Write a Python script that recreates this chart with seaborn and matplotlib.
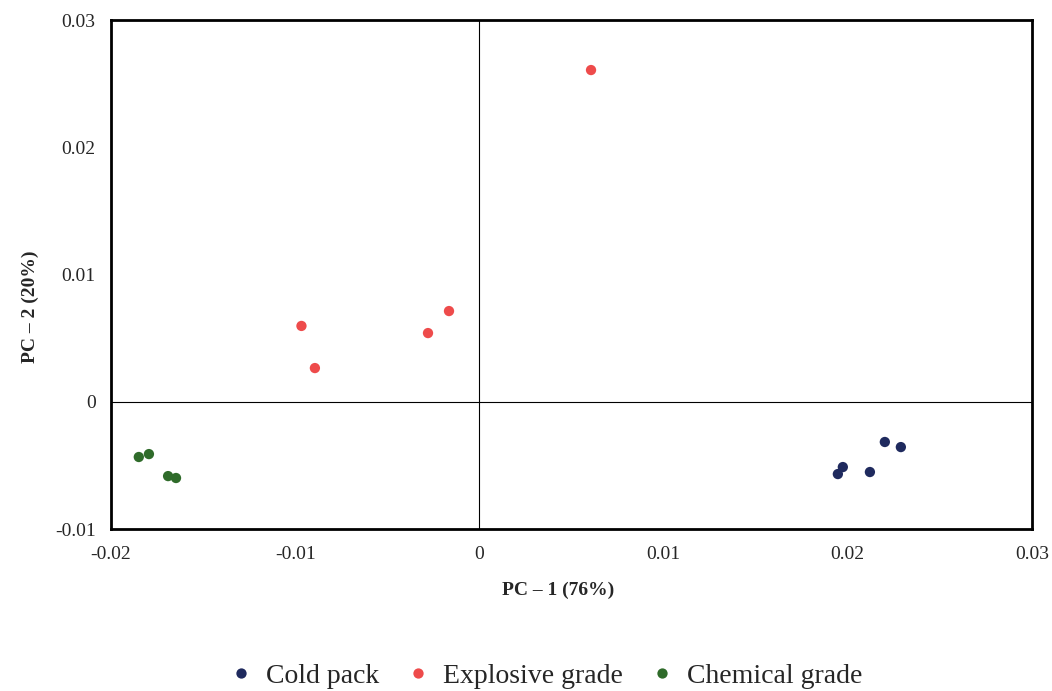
import matplotlib
matplotlib.use("Agg")
import matplotlib.pyplot as plt
import seaborn as sns
import pandas as pd

groups = ["Cold pack", "Explosive grade", "Chemical grade"]
cold_x = [0.01946, 0.01973, 0.0212, 0.02201, 0.02288]
cold_y = [-0.00568, -0.00513, -0.00552, -0.00316, -0.00356]
expl_x = [0.00606, -0.00165, -0.00279, -0.00966, -0.00893]
expl_y = [0.02607, 0.00713, 0.0054, 0.00596, 0.00265]
chem_x = [-0.01849, -0.01794, -0.0169, -0.01647]
chem_y = [-0.00434, -0.00411, -0.00584, -0.00599]
colors = ["#1F2A5E", "#EE4B4B", "#2F6B2A"]

df = pd.concat([
    pd.DataFrame({"PC1": cold_x, "PC2": cold_y, "Group": groups[0]}),
    pd.DataFrame({"PC1": expl_x, "PC2": expl_y, "Group": groups[1]}),
    pd.DataFrame({"PC1": chem_x, "PC2": chem_y, "Group": groups[2]}),
])

sns.set_style("white")
plt.rcParams["font.family"] = ["Liberation Serif", "DejaVu Serif"]

fig = plt.figure(figsize=(10.52, 6.91), dpi=100)
ax = fig.add_axes([0.1055, 0.2344, 0.8755, 0.7366])
ax.axhline(0, color="black", lw=0.8, zorder=1)
ax.axvline(0, color="black", lw=0.8, zorder=1)
sns.scatterplot(data=df, x="PC1", y="PC2", hue="Group", hue_order=groups,
                palette=colors, s=55, edgecolor="none", ax=ax, zorder=3, legend=True)
ax.set_xlim(-0.02, 0.03)
ax.set_ylim(-0.01, 0.03)
ax.set_xticks([-0.02, -0.01, 0, 0.01, 0.02, 0.03])
ax.set_xticklabels(["-0.02", "-0.01", "0", "0.01", "0.02", "0.03"])
ax.set_yticks([-0.01, 0, 0.01, 0.02, 0.03])
ax.set_yticklabels(["-0.01", "0", "0.01", "0.02", "0.03"])
ax.tick_params(axis="x", length=0, labelsize=14, pad=12)
ax.tick_params(axis="y", length=0, labelsize=14, pad=11)
for sp in ax.spines.values():
    sp.set_visible(True)
    sp.set_color("black")
    sp.set_linewidth(2)
ax.set_xlabel("PC – 1 (76%)", fontsize=14, fontweight="bold")
ax.set_ylabel("PC – 2 (20%)", fontsize=14, fontweight="bold")
ax.xaxis.set_label_coords(0.486, -0.103)
ax.yaxis.set_label_coords(-0.078, 0.437)

h, l = ax.get_legend_handles_labels()
ax.legend_.remove()
fig.legend(h, l, loc="center", bbox_to_anchor=(0.518, 0.022), ncol=3, frameon=False,
           fontsize=20, handlelength=1.0, handletextpad=0.4, columnspacing=0.9,
           markerscale=1.0)
fig.savefig("out.png", dpi=100)
